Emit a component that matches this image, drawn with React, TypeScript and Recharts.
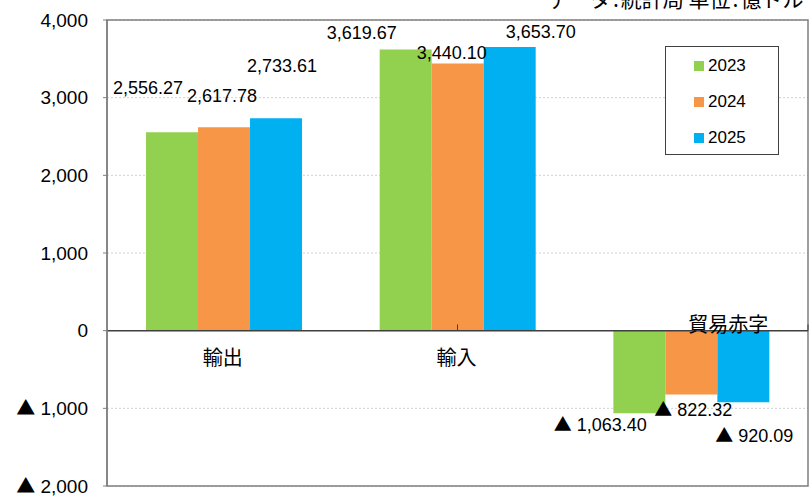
import { BarChart, Bar, XAxis, YAxis, CartesianGrid, LabelList, ReferenceLine, ReferenceArea, ReferenceDot } from 'recharts';

const CATEGORIES = ['輸出', '輸入', '貿易赤字'];
const SERIES = ['2023', '2024', '2025'];
const V2023 = [2556.27, 3619.67, -1063.4];
const V2024 = [2617.78, 3440.1, -822.32];
const V2025 = [2733.61, 3653.7, -920.09];
const Y_TICKS = [-2000, -1000, 0, 1000, 2000, 3000, 4000];
const COLORS = ['#92D050', '#F79646', '#00B0F0'];

// hand-placed label nudges (Excel moved them around), [dx, dy] from bar end
const NUDGE = [
  [[-24, -44], [-44, -17], [-39, 11]],
  [[-2, -32], [-6, -11], [2, 15]],
  [[6, -53], [31, -15], [11, 34]],
];
const CAT_NUDGE = [[-1, 27], [-1, 27], [37, -6]];

const LATIN = '"Liberation Sans", Arial, "Noto Sans CJK JP", sans-serif';
const CJK = '"Noto Sans CJK JP", sans-serif';

const data = CATEGORIES.map((name, i) => ({ name, s2023: V2023[i], s2024: V2024[i], s2025: V2025[i] }));
const keys = ['s2023', 's2024', 's2025'];

const fmt = (n: number) => n.toLocaleString('en-US', { minimumFractionDigits: 2, maximumFractionDigits: 2 });

// negatives are written with a triangle, Japanese style
const Signed = ({ v, text }: { v: number; text: string }) =>
  v < 0 ? (<><tspan fontFamily={CJK}>▲</tspan><tspan> {text}</tspan></>) : <>{text}</>;

function makeLabel(si: number) {
  return (p: any) => {
    const { x, y, width, height, value, index } = p;
    const endY = value >= 0 ? Math.min(y, y + height) : Math.max(y, y + height);
    const [dx, dy] = NUDGE[si][index];
    return (
      <text x={x + width / 2 + dx} y={endY + dy} dy="0.35em" textAnchor="middle"
            fontSize={18} fontFamily={LATIN} fill="#000">
        <Signed v={value} text={fmt(Math.abs(value))} />
      </text>
    );
  };
}

const YTick = (p: any) => {
  const v = p.payload.value;
  return (
    <text x={p.x} y={p.y} dy="0.35em" textAnchor="end" fontSize={19} fontFamily={LATIN} fill="#000">
      <Signed v={v} text={Math.abs(v).toLocaleString('en-US')} />
    </text>
  );
};

function catLabel(i: number) {
  return (p: any) => {
    const vb = p.viewBox || {};
    const cx = vb.x + (vb.width || 0) / 2;
    const cy = vb.y + (vb.height || 0) / 2;
    return (
      <text x={cx + CAT_NUDGE[i][0]} y={cy + CAT_NUDGE[i][1]} dy="0.35em" textAnchor="middle"
            fontSize={20} fontFamily={CJK} fill="#000">{CATEGORIES[i]}</text>
    );
  };
}

export default function App() {
  return (
    <div style={{ position: 'fixed', left: 0, top: 0, width: 811, height: 496, overflow: 'hidden', background: '#fff' }}>
      <div style={{ position: 'absolute', left: 548, top: -12, fontFamily: CJK, fontSize: 21, lineHeight: '21px',
        whiteSpace: 'nowrap', color: '#000' }}>
        データ<span style={{ padding: '0 2px' }}>:</span>統計局 単位<span style={{ padding: '0 2px' }}>:</span>億ドル
      </div>
      <BarChart width={811} height={496} data={data} margin={{ top: 20, right: 3, bottom: 10, left: 0 }}
                barCategoryGap="16.7%" barGap={0}>
        <CartesianGrid vertical={false} stroke="#d0d0d0" strokeDasharray="2 2" />
        <XAxis dataKey="name" height={0} axisLine={false} tickLine={false} tick={false} />
        <XAxis xAxisId="pos" type="number" domain={[0, 3]} hide />
        <YAxis domain={[-2000, 4000]} ticks={Y_TICKS} width={107} interval={0}
               axisLine={{ stroke: '#7f7f7f', strokeWidth: 1.5 }} tickLine={{ stroke: '#7f7f7f' }} tickSize={4}
               tickMargin={15} tick={<YTick />} />
        {keys.map((k, si) => (
          <Bar key={k} dataKey={k} name={SERIES[si]} fill={COLORS[si]} isAnimationActive={false}>
            <LabelList dataKey={k} content={makeLabel(si)} />
          </Bar>
        ))}
        <ReferenceArea y1={-2000} y2={4000} fill="none" stroke="#7f7f7f" strokeWidth={1.5} ifOverflow="visible" />
        <ReferenceLine y={0} stroke="#404040" strokeWidth={1.5} />
        <ReferenceLine xAxisId="pos" segment={[{ x: 1, y: 0 }, { x: 1, y: 80 }]} stroke="#404040" />
        <ReferenceLine xAxisId="pos" segment={[{ x: 2, y: 0 }, { x: 2, y: 80 }]} stroke="#404040" />
        {CATEGORIES.map((c, i) => (
          <ReferenceDot key={c} x={c} y={0} r={0} fill="none" stroke="none" label={{ content: catLabel(i) }} />
        ))}
      </BarChart>
      <div style={{ position: 'absolute', left: 665, top: 46, width: 112, height: 107, border: '1px solid #404040',
        background: '#fff', fontFamily: LATIN, fontSize: 17, color: '#000' }}>
        {SERIES.map((s, i) => (
          <div key={s} style={{ position: 'absolute', left: 28, top: 8 + i * 36, height: 22, display: 'flex', alignItems: 'center' }}>
            <span style={{ width: 10, height: 10, background: COLORS[i], marginRight: 4 }} />
            <span>{s}</span>
          </div>
        ))}
      </div>
    </div>
  );
}
